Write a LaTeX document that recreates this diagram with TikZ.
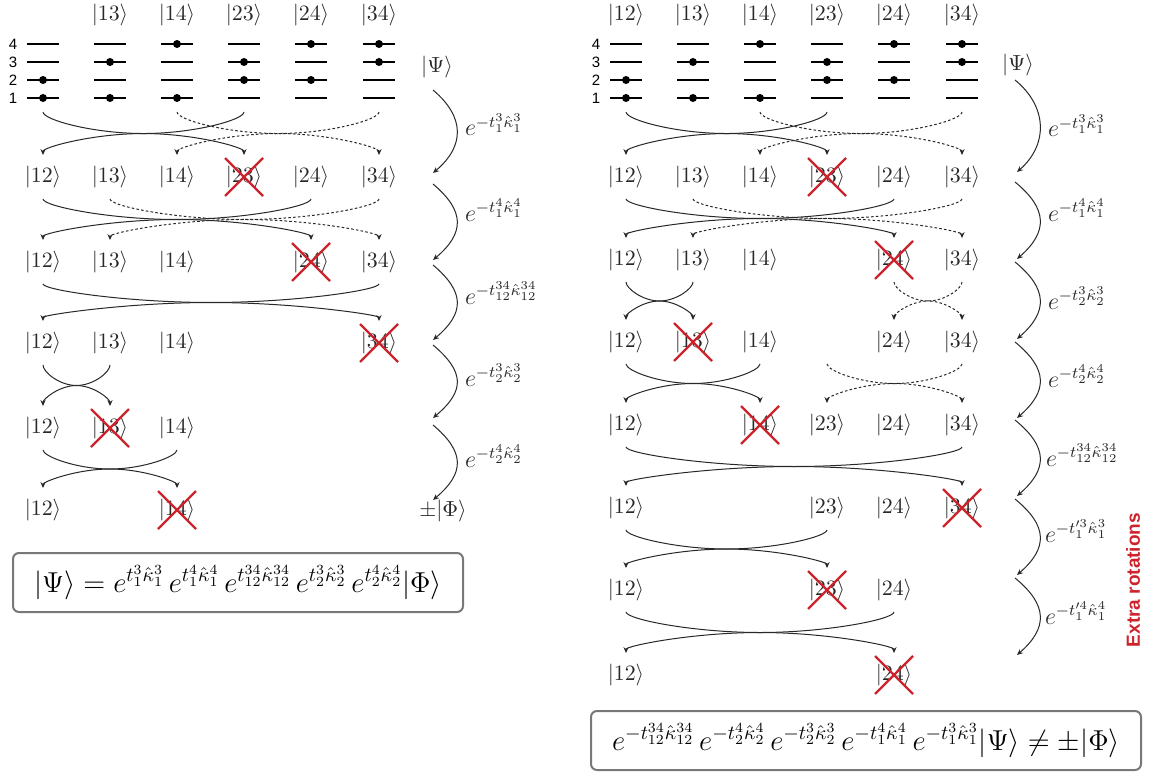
\documentclass[tikz,border=0pt]{standalone}
\usepackage{fontspec}
\usepackage{amsmath}
\newfontfamily\hv{Liberation Sans}
\usetikzlibrary{arrows.meta,calc}
\definecolor{xred}{RGB}{205,35,45}
\definecolor{ink}{RGB}{40,40,40}
\definecolor{boxgray}{RGB}{120,120,120}
\newcommand\kt[4]{\node[ket] (#1) at (#2,#3) {$|#4\rangle$};}
\newcommand\xout[1]{\draw[xline] (#1) +(-19,-19) -- +(19,19) (#1) +(-19,19) -- +(19,-19);}
\newcommand\swp[3][sw]{%
  \coordinate (sM) at ($(#2)!0.5!(#3)$);
  \coordinate (sA) at (#2 |- sM);
  \coordinate (sB) at (#3 |- sM);
  \draw[#1] (#2) .. controls ($(#2)!0.58!(sA)$) and ($(sA)!0.5!(sM)$) .. (sM)
                 .. controls ($(sB)!0.5!(sM)$) and ($(#3)!0.58!(sB)$) .. (#3);}
\newcommand\leveldiagram[2]{%
  \foreach \n/\x/\a/\b in {12/43/1/2,13/110/1/3,14/177/1/4,23/244/2/3,24/311/2/4,34/379/3/4}{
    \foreach \l in {1,...,4} \draw[lvl] ({\x+#2-16},{98-18*(\l-1)}) -- ++(32,0);
    \fill ({\x+#2},{98-18*(\a-1)}) circle (2pt) ({\x+#2},{98-18*(\b-1)}) circle (2pt);
    \coordinate (#1-\n) at ({\x+#2},101);
  }
  \foreach \l in {1,...,4} \node[num] at ({13+#2},{98-18*(\l-1)}) {\l};
}
\begin{document}
\begin{tikzpicture}[x=0.5pt,y=-0.5pt,
  ket/.style={inner sep=0pt,outer sep=0pt,text=ink,font=\fontsize{10.5}{12}\selectfont},
  lbl/.style={inner sep=0pt,outer sep=0pt,text=ink,anchor=base west,font=\fontsize{12}{14}\selectfont},
  num/.style={inner sep=0pt,font=\hv\fontsize{7.5}{8}\selectfont},
  lvl/.style={line width=1.3pt},
  sw/.style={draw=ink,line width=0.5pt,-{Stealth[length=3pt,width=2.6pt]},shorten <=5.5pt,shorten >=5.5pt},
  dsw/.style={sw,dash pattern=on 1.3pt off 1.1pt},
  harc/.style={draw=ink,line width=0.5pt,-{Stealth[length=3pt,width=2.6pt]}},
  xline/.style={draw=xred,line width=1.2pt},
  eqbox/.style={draw=boxgray,line width=1pt,rounded corners=3pt,inner sep=0pt,minimum height=29.5pt,font=\fontsize{14.8}{17}\selectfont}]
\useasboundingbox (0,0) rectangle (1150,775);

% ================= LEFT PANEL =================
\kt{LT-13}{110}{15}{13}\kt{LT-14}{177}{15}{14}\kt{LT-23}{244}{15}{23}\kt{LT-24}{311}{15}{24}\kt{LT-34}{379}{15}{34}
\leveldiagram{L0}{0}
\node[ket] (Lpsi) at (437,67) {$|\Psi\rangle$};

\kt{L1-12}{43}{177}{12}\kt{L1-13}{110}{177}{13}\kt{L1-14}{177}{177}{14}\kt{L1-23}{244}{177}{23}\kt{L1-24}{311}{177}{24}\kt{L1-34}{379}{177}{34}
\kt{L2-12}{43}{262}{12}\kt{L2-13}{110}{262}{13}\kt{L2-14}{177}{262}{14}\kt{L2-24}{311}{262}{24}\kt{L2-34}{379}{262}{34}
\kt{L3-12}{43}{343}{12}\kt{L3-13}{110}{343}{13}\kt{L3-14}{177}{343}{14}\kt{L3-34}{379}{343}{34}
\kt{L4-12}{43}{428}{12}\kt{L4-13}{110}{428}{13}\kt{L4-14}{177}{428}{14}
\kt{L5-12}{43}{510}{12}\kt{L5-14}{177}{510}{14}
\node[ket] (Lphi) at (443,511) {$\pm|\Phi\rangle$};

\swp{L0-12}{L1-23.north}\swp{L0-23}{L1-12.north}
\swp[dsw]{L0-14}{L1-34.north}\swp[dsw]{L0-34}{L1-14.north}
\swp{L1-12.south}{L2-24.north}\swp{L1-24.south}{L2-12.north}
\swp[dsw]{L1-13.south}{L2-34.north}\swp[dsw]{L1-34.south}{L2-13.north}
\swp{L2-12.south}{L3-34.north}\swp{L2-34.south}{L3-12.north}
\swp{L3-12.south}{L4-13.north}\swp{L3-13.south}{L4-12.north}
\swp{L4-12.south}{L5-14.north}\swp{L4-14.south}{L5-12.north}

\xout{L1-23}\xout{L2-24}\xout{L3-34}\xout{L4-13}\xout{L5-14}

\coordinate (la1s) at (433,90);  \coordinate (la1e) at (433,173);
\coordinate (la2s) at (433,184); \coordinate (la2e) at (433,260);
\coordinate (la3s) at (433,265); \coordinate (la3e) at (433,340);
\coordinate (la4s) at (433,345); \coordinate (la4e) at (433,418);
\coordinate (la5s) at (433,425); \coordinate (la5e) at (433,500);
\foreach \i in {1,...,5}{\draw[harc] (la\i s) .. controls +(32,27) and +(32,-27) .. (la\i e);}
\node[lbl] (le1) at (465,136) {$e^{-t_1^3\hat\kappa_1^3}$};
\node[lbl] (le2) at (465,221) {$e^{-t_1^4\hat\kappa_1^4}$};
\node[lbl] (le3) at (465,304) {$e^{-t_{12}^{34}\hat\kappa_{12}^{34}}$};
\node[lbl] (le4) at (465,386) {$e^{-t_2^3\hat\kappa_2^3}$};
\node[lbl] (le5) at (465,467) {$e^{-t_2^4\hat\kappa_2^4}$};

\node[eqbox,minimum width=225pt] (Lbox) at (238,582.5)
  {$|\Psi\rangle = e^{t_1^3\hat\kappa_1^3}\,e^{t_1^4\hat\kappa_1^4}\,e^{t_{12}^{34}\hat\kappa_{12}^{34}}\,e^{t_2^3\hat\kappa_2^3}\,e^{t_2^4\hat\kappa_2^4}|\Phi\rangle$};

% ================= RIGHT PANEL =================
\kt{RT-12}{626}{15}{12}\kt{RT-13}{693}{15}{13}\kt{RT-14}{760}{15}{14}\kt{RT-23}{827}{15}{23}\kt{RT-24}{894}{15}{24}\kt{RT-34}{962}{15}{34}
\leveldiagram{R0}{583}
\node[ket] (Rpsi) at (1018,65) {$|\Psi\rangle$};

\kt{R1-12}{626}{177}{12}\kt{R1-13}{693}{177}{13}\kt{R1-14}{760}{177}{14}\kt{R1-23}{827}{177}{23}\kt{R1-24}{894}{177}{24}\kt{R1-34}{962}{177}{34}
\kt{R2-12}{626}{260}{12}\kt{R2-13}{693}{260}{13}\kt{R2-14}{760}{260}{14}\kt{R2-24}{894}{260}{24}\kt{R2-34}{962}{260}{34}
\kt{R3-12}{626}{342}{12}\kt{R3-13}{693}{342}{13}\kt{R3-14}{760}{342}{14}\kt{R3-24}{894}{342}{24}\kt{R3-34}{962}{342}{34}
\node[ket] (R3-23) at (827,342) {$\phantom{|23\rangle}$};
\kt{R4-12}{626}{425}{12}\kt{R4-14}{760}{425}{14}\kt{R4-23}{827}{425}{23}\kt{R4-24}{894}{425}{24}\kt{R4-34}{962}{425}{34}
\kt{R5-12}{626}{508}{12}\kt{R5-23}{827}{508}{23}\kt{R5-24}{894}{508}{24}\kt{R5-34}{962}{508}{34}
\kt{R6-12}{626}{590}{12}\kt{R6-23}{827}{590}{23}\kt{R6-24}{894}{590}{24}
\kt{R7-12}{626}{675}{12}\kt{R7-24}{894}{675}{24}

\swp{R0-12}{R1-23.north}\swp{R0-23}{R1-12.north}
\swp[dsw]{R0-14}{R1-34.north}\swp[dsw]{R0-34}{R1-14.north}
\swp{R1-12.south}{R2-24.north}\swp{R1-24.south}{R2-12.north}
\swp[dsw]{R1-13.south}{R2-34.north}\swp[dsw]{R1-34.south}{R2-13.north}
\swp{R2-12.south}{R3-13.north}\swp{R2-13.south}{R3-12.north}
\swp[dsw]{R2-24.south}{R3-34.north}\swp[dsw]{R2-34.south}{R3-24.north}
\swp{R3-12.south}{R4-14.north}\swp{R3-14.south}{R4-12.north}
\swp[dsw]{R3-23.south}{R4-34.north}\swp[dsw]{R3-34.south}{R4-23.north}
\swp{R4-12.south}{R5-34.north}\swp{R4-34.south}{R5-12.north}
\swp{R5-12.south}{R6-23.north}\swp{R5-23.south}{R6-12.north}
\swp{R6-12.south}{R7-24.north}\swp{R6-24.south}{R7-12.north}

\xout{R1-23}\xout{R2-24}\xout{R3-13}\xout{R4-14}\xout{R5-34}\xout{R6-23}\xout{R7-24}

\coordinate (ra1s) at (1015,80);  \coordinate (ra1e) at (1017,172);
\coordinate (ra2s) at (1015,182); \coordinate (ra2e) at (1017,259);
\coordinate (ra3s) at (1015,262); \coordinate (ra3e) at (1017,339);
\coordinate (ra4s) at (1015,342); \coordinate (ra4e) at (1017,418);
\coordinate (ra5s) at (1015,420); \coordinate (ra5e) at (1017,496);
\coordinate (ra6s) at (1015,499); \coordinate (ra6e) at (1017,575);
\coordinate (ra7s) at (1015,578); \coordinate (ra7e) at (1017,655);
\foreach \i in {1,...,7}{\draw[harc] (ra\i s) .. controls +(33,27) and +(31,-27) .. (ra\i e);}
\node[lbl] (re1) at (1048,137) {$e^{-t_1^3\hat\kappa_1^3}$};
\node[lbl] (re2) at (1048,221) {$e^{-t_1^4\hat\kappa_1^4}$};
\node[lbl] (re3) at (1048,309) {$e^{-t_2^3\hat\kappa_2^3}$};
\node[lbl] (re4) at (1048,387) {$e^{-t_2^4\hat\kappa_2^4}$};
\node[lbl] (re5) at (1046,466) {$e^{-t_{12}^{34}\hat\kappa_{12}^{34}}$};
\node[lbl] (re6) at (1045,542) {$e^{-t'^{3}_{1}\hat\kappa_1^3}$};
\node[lbl] (re7) at (1045,624) {$e^{-t'^{4}_{1}\hat\kappa_1^4}$};
\node[rotate=90,text=xred,inner sep=0pt,font=\hv\bfseries\fontsize{9.5}{11}\selectfont] (extra) at (1133,580) {Extra rotations};

\node[eqbox,minimum width=275pt] (Rbox) at (866,740.5)
  {$e^{-t_{12}^{34}\hat\kappa_{12}^{34}}\,e^{-t_2^4\hat\kappa_2^4}\,e^{-t_2^3\hat\kappa_2^3}\,e^{-t_1^4\hat\kappa_1^4}\,e^{-t_1^3\hat\kappa_1^3}|\Psi\rangle \neq \pm|\Phi\rangle$};
\end{tikzpicture}
\end{document}
